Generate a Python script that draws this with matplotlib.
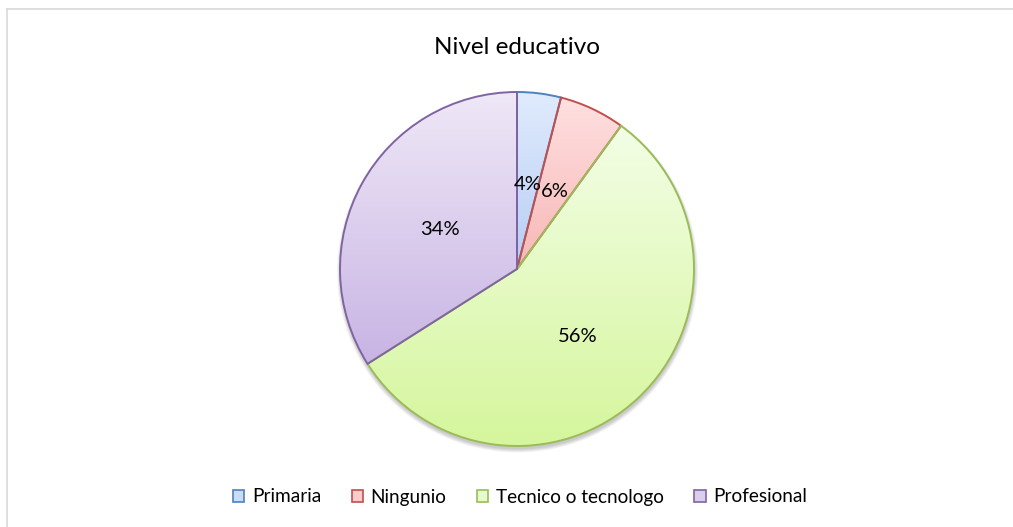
import numpy as np
import matplotlib
matplotlib.use("Agg")
import matplotlib.pyplot as plt
from matplotlib.patches import Rectangle, Circle
from matplotlib.colors import LinearSegmentedColormap

categories = ["Primaria", "Ningunio", "Tecnico o tecnologo", "Profesional"]
values = [4, 6, 56, 34]
title = "Nivel educativo"

top_colors = ["#e0ebfd", "#ffe0e0", "#f3fee6", "#efe8f7"]
bot_colors = ["#b7cdf4", "#f7b7b6", "#d5f69c", "#c8b4e4"]
edge_colors = ["#4f81bd", "#c0504d", "#9bbb59", "#8064a2"]

W, H = 1013, 527
fig = plt.figure(figsize=(W / 100, H / 100), dpi=100)
ax = fig.add_axes([0, 0, 1, 1])

font = "Lato"

cx, cy, r = 517, H - 269, 177

# soft shadow
for k in range(7):
    ax.add_patch(Circle((cx + 0.5, cy - 3), r + 0.6 * k, facecolor="#000000",
                        edgecolor="none", alpha=0.03, zorder=1))

wedges, texts, autotexts = ax.pie(
    values, center=(cx, cy), radius=r, startangle=90, counterclock=False,
    autopct=lambda p: f"{p:.0f}%", pctdistance=0.5, frame=True,
    wedgeprops=dict(linewidth=1.4),
    textprops=dict(fontsize=14.5, family=font, color="#000000"))
ax.set_xlim(0, W)
ax.set_ylim(0, H)
ax.set_aspect("equal")
ax.axis("off")

# frame
ax.plot([6.5, W], [H - 8.5, H - 8.5], color="#d9d9d9", lw=1.2, zorder=0)
ax.plot([6.5, 6.5], [H - 8.5, 0], color="#d9d9d9", lw=1.2, zorder=0)

for w, tc, bc, ec in zip(wedges, top_colors, bot_colors, edge_colors):
    w.set_facecolor("none")
    w.set_edgecolor(ec)
    w.set_zorder(3)
    ext = w.get_path().get_extents()
    cmap = LinearSegmentedColormap.from_list("g", [bc, tc])
    grad = np.linspace(0, 1, 256).reshape(-1, 1)
    im = ax.imshow(grad, cmap=cmap, origin="lower", aspect="auto",
                   extent=(ext.x0, ext.x1, ext.y0, ext.y1), zorder=2,
                   interpolation="bilinear")
    im.set_clip_path(w)
ax.set_xlim(0, W)
ax.set_ylim(0, H)
for t in autotexts:
    t.set_zorder(5)
    x, y = t.get_position()
    t.set_position((x, y - 3))

ax.text(cx, H - 48, title, ha="center", va="center", fontsize=17.5,
        family=font, color="#000000")

handles = [Rectangle((0, 0), 1, 1, facecolor=m, edgecolor=ec, lw=1.2)
           for m, ec in zip(["#cbdcf8", "#fbcccb", "#e6facb", "#dacdee"], edge_colors)]
leg = fig.legend(handles, categories, loc="center", bbox_to_anchor=(520 / W, 1 - 497 / H),
                 ncol=4, frameon=False, prop=dict(family=font, size=13.7),
                 handlelength=0.6, handleheight=0.6, handletextpad=0.4,
                 columnspacing=1.6)

fig.savefig("out.png", dpi=100)
